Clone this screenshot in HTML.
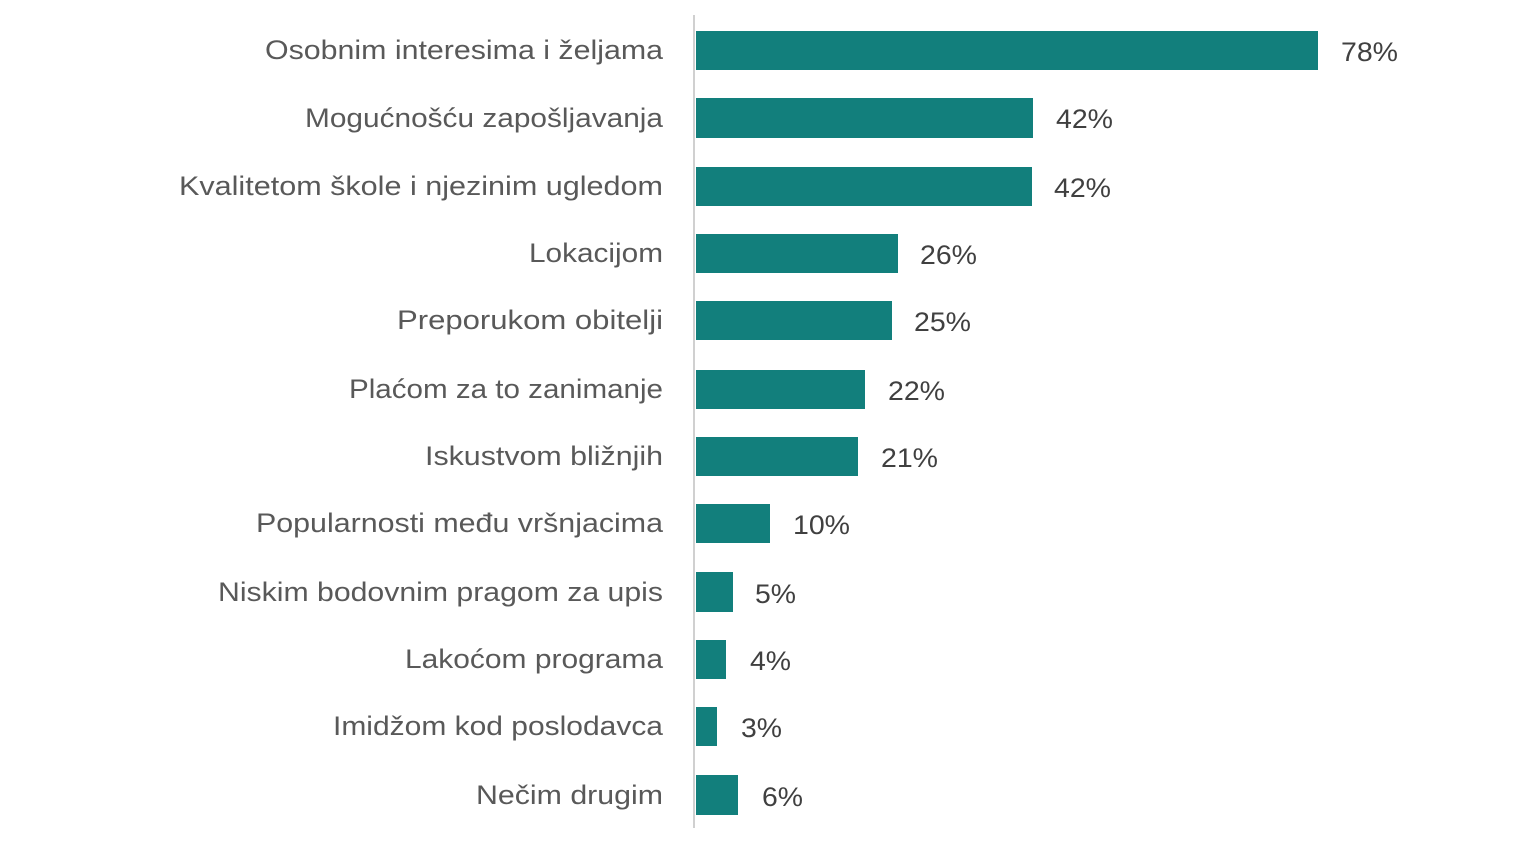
<!DOCTYPE html>
<html><head><meta charset="utf-8"><style>html,body{margin:0;padding:0;background:#fff;}svg{display:block}</style></head>
<body>
<svg width="1536" height="850" xmlns="http://www.w3.org/2000/svg" font-family="Liberation Sans, sans-serif" font-size="27" fill="#595959">
<rect x="693" y="15" width="2" height="813" fill="#d0d0d0"/>
<g fill="#127f7c">
<rect x="696" y="31" width="622" height="39"/>
<rect x="696" y="98" width="337" height="40"/>
<rect x="696" y="167" width="336" height="39"/>
<rect x="696" y="234" width="202" height="39"/>
<rect x="696" y="301" width="196" height="39"/>
<rect x="696" y="370" width="169" height="39"/>
<rect x="696" y="437" width="162" height="39"/>
<rect x="696" y="504" width="74" height="39"/>
<rect x="696" y="572" width="37" height="40"/>
<rect x="696" y="640" width="30" height="39"/>
<rect x="696" y="707" width="21" height="39"/>
<rect x="696" y="775" width="42" height="40"/>
</g>
<g text-anchor="end">
<text x="663" y="59" textLength="398" lengthAdjust="spacingAndGlyphs">Osobnim interesima i željama</text>
<text x="663" y="127" textLength="358" lengthAdjust="spacingAndGlyphs">Mogućnošću zapošljavanja</text>
<text x="663" y="195" textLength="484" lengthAdjust="spacingAndGlyphs">Kvalitetom škole i njezinim ugledom</text>
<text x="663" y="262" textLength="134" lengthAdjust="spacingAndGlyphs">Lokacijom</text>
<text x="663" y="329" textLength="266" lengthAdjust="spacingAndGlyphs">Preporukom obitelji</text>
<text x="663" y="398" textLength="314" lengthAdjust="spacingAndGlyphs">Plaćom za to zanimanje</text>
<text x="663" y="465" textLength="238" lengthAdjust="spacingAndGlyphs">Iskustvom bližnjih</text>
<text x="663" y="532" textLength="407" lengthAdjust="spacingAndGlyphs">Popularnosti među vršnjacima</text>
<text x="663" y="601" textLength="445" lengthAdjust="spacingAndGlyphs">Niskim bodovnim pragom za upis</text>
<text x="663" y="668" textLength="258" lengthAdjust="spacingAndGlyphs">Lakoćom programa</text>
<text x="663" y="735" textLength="330" lengthAdjust="spacingAndGlyphs">Imidžom kod poslodavca</text>
<text x="663" y="804" textLength="187" lengthAdjust="spacingAndGlyphs">Nečim drugim</text>
</g>
<g fill="#404040">
<text x="1341" y="61" textLength="57" lengthAdjust="spacingAndGlyphs">78%</text>
<text x="1056" y="128" textLength="57" lengthAdjust="spacingAndGlyphs">42%</text>
<text x="1054" y="197" textLength="57" lengthAdjust="spacingAndGlyphs">42%</text>
<text x="920" y="264" textLength="57" lengthAdjust="spacingAndGlyphs">26%</text>
<text x="914" y="331" textLength="57" lengthAdjust="spacingAndGlyphs">25%</text>
<text x="888" y="400" textLength="57" lengthAdjust="spacingAndGlyphs">22%</text>
<text x="881" y="467" textLength="57" lengthAdjust="spacingAndGlyphs">21%</text>
<text x="793" y="534" textLength="57" lengthAdjust="spacingAndGlyphs">10%</text>
<text x="755" y="603" textLength="41" lengthAdjust="spacingAndGlyphs">5%</text>
<text x="750" y="670" textLength="41" lengthAdjust="spacingAndGlyphs">4%</text>
<text x="741" y="737" textLength="41" lengthAdjust="spacingAndGlyphs">3%</text>
<text x="762" y="806" textLength="41" lengthAdjust="spacingAndGlyphs">6%</text>
</g>
</svg>
</body></html>
